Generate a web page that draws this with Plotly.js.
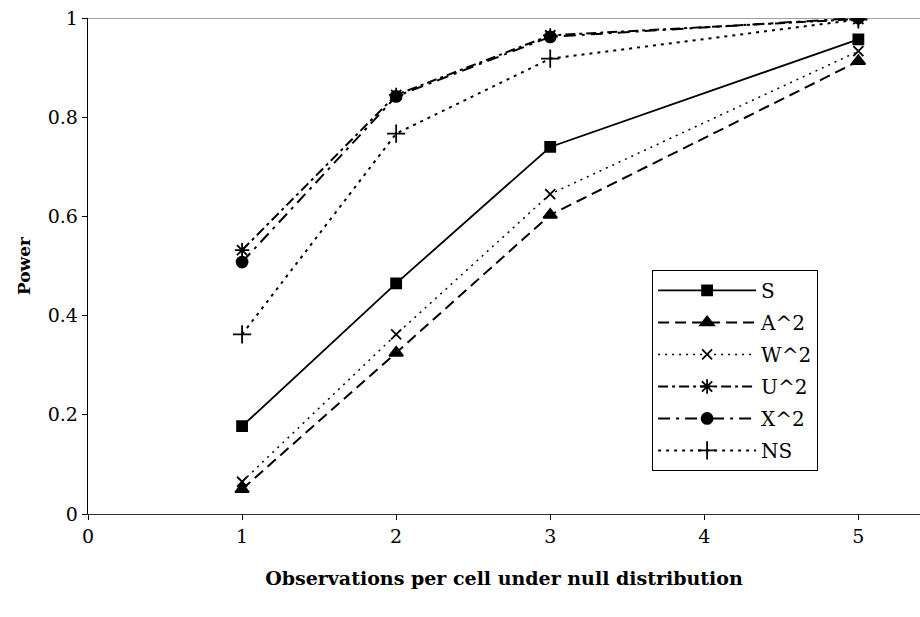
<!DOCTYPE html>
<html>
<head>
<meta charset="utf-8">
<script src="https://cdn.plot.ly/plotly-3.0.1.min.js"></script>
<style>
html,body{margin:0;padding:0;background:#fff;}
#chart{width:920px;height:617px;}
</style>
</head>
<body>
<div id="chart"></div>
<script>
const xObs = [1, 2, 3, 5];
const seriesNames = ["S", "A^2", "W^2", "U^2", "X^2", "NS"];
const sVals  = [0.177, 0.465, 0.740, 0.957];
const a2Vals = [0.050, 0.325, 0.603, 0.913];
const w2Vals = [0.065, 0.362, 0.645, 0.933];
const u2Vals = [0.532, 0.845, 0.965, 0.998];
const x2Vals = [0.508, 0.842, 0.962, 1.000];
const nsVals = [0.362, 0.767, 0.918, 0.997];
const yTickVals = [0, 0.2, 0.4, 0.6, 0.8, 1];
const yTickText = ["0", "0.2", "0.4", "0.6", "0.8", "1"];
const xTickVals = [0, 1, 2, 3, 4, 5];

const styles = [
  {dash: "solid", width: 1.8, symbol: "square", size: 10},
  {dash: "11px,6px", width: 2, symbol: "triangle-up", size: 12},
  {dash: "2px,5px", width: 1.5, symbol: "x-thin-open", size: 10},
  {dash: "10px,4px,3px,4px", width: 2, symbol: "asterisk-open", size: 12},
  {dash: "12px,6px,3px,6px", width: 2, symbol: "circle", size: 11},
  {dash: "3px,5px", width: 2, symbol: "cross-thin-open", size: 13}
];
const allVals = [sVals, a2Vals, w2Vals, u2Vals, x2Vals, nsVals];

const traces = allVals.map((vals, i) => ({
  x: xObs,
  y: vals,
  name: seriesNames[i],
  legendgroup: "g" + i,
  mode: "lines+markers",
  type: "scatter",
  line: {color: "#000", width: styles[i].width, dash: styles[i].dash},
  marker: {symbol: styles[i].symbol, size: styles[i].size, color: "#000",
           line: {color: "#000", width: 1.8}}
}));

const font = "DejaVu Serif";

const layout = {
  width: 920, height: 617,
  margin: {l: 88, r: 0, t: 18, b: 103},
  paper_bgcolor: "#fff", plot_bgcolor: "#fff",
  font: {family: font, color: "#000", size: 19},
  showlegend: true,
  legend: {
    x: 0.678, y: 0.492, xanchor: "left", yanchor: "top",
    bordercolor: "#000", borderwidth: 1, bgcolor: "#fff",
    font: {family: font, size: 20, color: "#000"},
    traceorder: "grouped", tracegroupgap: 3, itemwidth: 98
  },
  xaxis: {
    range: [0, 5.4], tickvals: xTickVals, ticks: "outside", ticklen: 5,
    tickcolor: "#000", showgrid: false, zeroline: false,
    showline: true, linecolor: "#333", linewidth: 1.3,
    tickfont: {family: font, size: 19, color: "#000"},
    title: {text: "<b>Observations per cell under null distribution</b>",
            font: {family: font, size: 19}, standoff: 25}
  },
  yaxis: {
    range: [0, 1], tickvals: yTickVals, ticktext: yTickText, ticks: "outside", ticklen: 5,
    tickcolor: "#000", showgrid: false, zeroline: false,
    showline: true, linecolor: "#000", linewidth: 1.3,
    tickfont: {family: font, size: 19, color: "#000"},
    title: {text: "<b>Power</b>", font: {family: font, size: 17}, standoff: 12}
  },
  shapes: [{type: "line", xref: "paper", x0: 0, x1: 1, yref: "y", y0: 1, y1: 1,
            line: {color: "#808080", width: 1.3}, layer: "below"}]
};

Plotly.newPlot("chart", traces, layout, {displayModeBar: false, staticPlot: true});
</script>
</body>
</html>
